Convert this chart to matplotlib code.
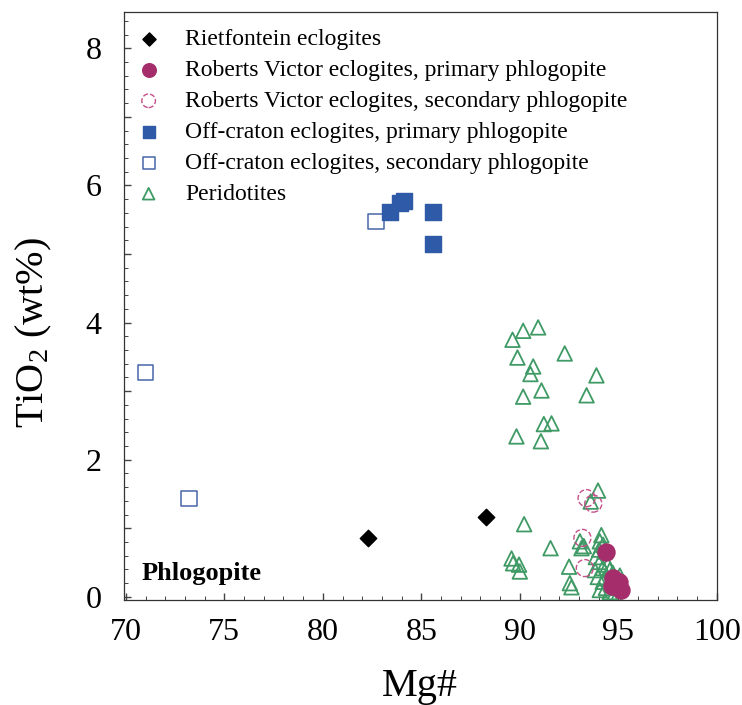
import matplotlib.pyplot as plt
from matplotlib.ticker import MultipleLocator

# Mg# and TiO2 (wt%) of phlogopite for each group
riet_mg = [82.3, 88.3]
riet_ti = [0.86, 1.17]

rv_prim_mg = [94.40, 94.72, 94.92, 95.13, 94.67, 95.03]
rv_prim_ti = [0.66, 0.28, 0.17, 0.10, 0.16, 0.22]

rv_sec_mg = [93.39, 93.73, 93.18, 93.30]
rv_sec_ti = [1.44, 1.36, 0.86, 0.42]

oc_prim_mg = [83.4, 83.9, 84.1, 85.6, 85.6]
oc_prim_ti = [5.61, 5.74, 5.77, 5.61, 5.15]

oc_sec_mg = [71.0, 73.2, 82.7]
oc_sec_ti = [3.27, 1.44, 5.48]

perid_mg = [89.63, 90.17, 90.93, 89.88, 92.28, 90.68, 90.54, 93.89, 90.17, 91.10,
            93.39, 91.22, 91.61, 89.83, 91.07, 93.97, 90.22, 91.56, 89.58, 89.66,
            89.96, 90.00, 92.50, 92.54, 92.62, 93.60,
            93.05, 93.25, 93.13, 94.14, 94.06, 94.23, 94.03, 94.31, 93.86, 94.06,
            94.21, 94.47, 94.57, 94.72, 93.81, 93.96, 94.21, 94.37, 94.06, 94.57,
            94.92, 95.08, 94.30, 94.80]
perid_ti = [3.75, 3.88, 3.93, 3.49, 3.55, 3.36, 3.25, 3.23, 2.92, 3.01,
            2.94, 2.52, 2.53, 2.34, 2.27, 1.55, 1.06, 0.71, 0.56, 0.49,
            0.47, 0.37, 0.44, 0.20, 0.14, 1.39,
            0.81, 0.74, 0.71, 0.90, 0.81, 0.76, 0.69, 0.66, 0.58, 0.51,
            0.42, 0.47, 0.39, 0.35, 0.39, 0.29, 0.22, 0.13, 0.10, 0.07,
            0.00, 0.31, 0.27, 0.05]

plt.rcParams['font.family'] = 'Liberation Serif'
plt.rcParams['mathtext.fontset'] = 'custom'
plt.rcParams['mathtext.rm'] = 'Liberation Serif'
plt.rcParams['mathtext.it'] = 'Liberation Serif:italic'

fig = plt.figure(figsize=(7.42, 7.05), dpi=100)
ax = fig.add_axes([0.167, 0.149, 0.799, 0.834])

green = '#3f9a65'
ax.scatter(perid_mg, perid_ti, marker='^', s=110, facecolors='none',
           edgecolors=green, linewidths=1.3, label='Peridotites', zorder=3)
ax.scatter(rv_sec_mg, rv_sec_ti, marker='o', s=150, facecolors='none',
           edgecolors='#c4508a', linewidths=1.0, linestyles='--',
           label='Roberts Victor eclogites, secondary phlogopite', zorder=4)
ax.scatter(rv_prim_mg, rv_prim_ti, marker='o', s=150, color='#a52d6c',
           label='Roberts Victor eclogites, primary phlogopite', zorder=5)
ax.scatter(oc_prim_mg, oc_prim_ti, marker='s', s=120, color='#2f5aa8',
           label='Off-craton eclogites, primary phlogopite', zorder=4)
ax.scatter(oc_sec_mg, oc_sec_ti, marker='s', s=120, facecolors='none',
           edgecolors='#4866a8', linewidths=1.1,
           label='Off-craton eclogites, secondary phlogopite', zorder=3)
ax.scatter(riet_mg, riet_ti, marker='D', s=70, color='black',
           label='Rietfontein eclogites', zorder=5)

# legend in the order used in the paper
order = ['Rietfontein eclogites',
         'Roberts Victor eclogites, primary phlogopite',
         'Roberts Victor eclogites, secondary phlogopite',
         'Off-craton eclogites, primary phlogopite',
         'Off-craton eclogites, secondary phlogopite',
         'Peridotites']
handles, labels = ax.get_legend_handles_labels()
hmap = dict(zip(labels, handles))
ax.legend([hmap[k] for k in order], order, loc='upper left',
          bbox_to_anchor=(-0.03, 1.004), frameon=False, fontsize=17,
          handletextpad=0.55, labelspacing=0.4, borderpad=0.3,
          markerscale=0.8)

ax.text(0.03, 0.025, 'Phlogopite', transform=ax.transAxes, fontsize=19,
        fontweight='bold', ha='left', va='bottom')

ax.set_xlim(69.9, 100)
ax.set_ylim(-0.045, 8.53)
ax.xaxis.set_major_locator(MultipleLocator(5))
ax.xaxis.set_minor_locator(MultipleLocator(1))
ax.yaxis.set_minor_locator(MultipleLocator(0.2))
ax.set_yticks([0, 1, 2, 3, 4, 5, 6, 7, 8])
ax.set_yticklabels(['0', '', '2', '', '4', '', '6', '', '8'])
ax.tick_params(which='both', direction='in', top=False, right=False,
               labelsize=23, color='#444444')
ax.tick_params(which='major', length=5, width=1.0)
ax.tick_params(which='minor', length=3, width=0.7)
ax.tick_params(axis='x', which='major', pad=13)
ax.tick_params(axis='y', which='major', pad=16)
for sp in ax.spines.values():
    sp.set_linewidth(0.9)
    sp.set_color('#333333')

ax.set_xlabel('Mg#', fontsize=29, labelpad=15)
ax.set_ylabel(r'TiO$_2$ (wt%)', fontsize=29)
ax.yaxis.set_label_coords(-0.118, 0.455)

fig.savefig('out.png', dpi=100)
